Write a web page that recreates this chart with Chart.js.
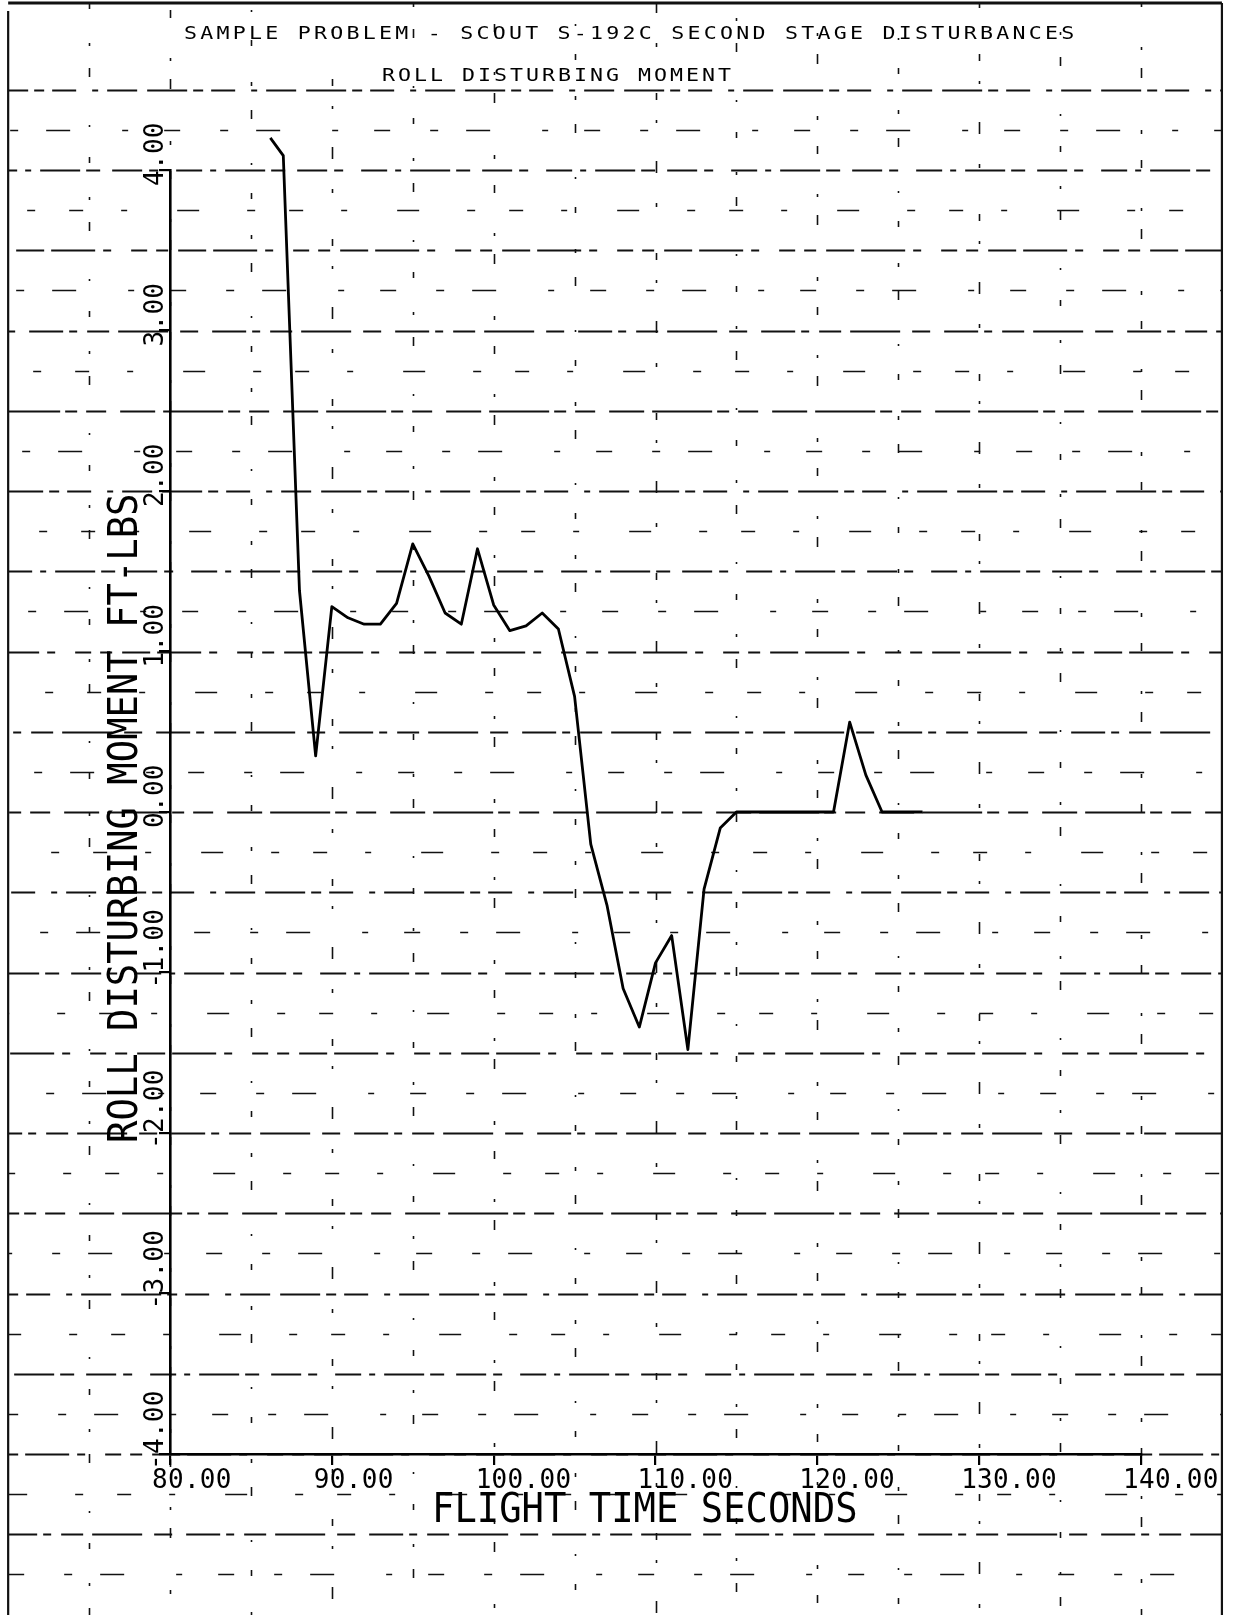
<!DOCTYPE html>
<html><head><meta charset="utf-8">
<style>html,body{margin:0;padding:0;background:#fff;} canvas{display:block;}</style>
<script src="https://cdn.jsdelivr.net/npm/chart.js@4.4.1/dist/chart.umd.min.js"></script>
</head><body>
<div style="width:1240px;height:1615px;position:relative"><canvas id="c" width="1240" height="1615"></canvas></div>
<script>
// ---- text ----
const chartTitle = "SAMPLE PROBLEM - SCOUT S-192C SECOND STAGE DISTURBANCES";
const chartSubtitle = "ROLL DISTURBING MOMENT";
const xAxisTitle = "FLIGHT TIME SECONDS";
const yAxisTitle = "ROLL DISTURBING MOMENT FT-LBS";

// ---- data ----
const flightTime = [86.2, 87, 88, 89, 90, 91, 92, 93, 94, 95, 96, 97, 98, 99, 100,
  101, 102, 103, 104, 105, 106, 107, 108, 109, 110, 111, 112, 113, 114, 115,
  116, 117, 118, 119, 120, 121, 122, 123, 124, 125, 126, 126.5];
const rollMoment = [4.20, 4.09, 1.38, 0.35, 1.28, 1.21, 1.17, 1.17, 1.30, 1.67, 1.47,
  1.24, 1.17, 1.64, 1.29, 1.13, 1.16, 1.24, 1.14, 0.72, -0.20, -0.58, -1.10, -1.34,
  -0.94, -0.77, -1.48, -0.48, -0.10, 0.00, 0.00, 0.00, 0.00, 0.00, 0.00, 0.00,
  0.56, 0.23, 0.00, 0.00, 0.00, 0.00];

// ---- axes ----
const xRange = [80, 140];
const yRange = [-4, 4];
const xTickStep = 10;
const yTickStep = 1;
const xGridStep = 5;        // plotter grid spacing (seconds)
const yGridStep = 0.25;     // plotter grid spacing (ft-lbs)
const pageTimeRange = [70, 145];
const pageValueRange = [-4.75, 4.5];
const pageTopValue = 5.04;

const FONT = '"DejaVu Sans Mono", "Liberation Mono", monospace';

const majorDash = [
  [26,8,6,9,40,6,14,12,30,7,9,18],
  [18,14,34,6,8,10,22,9,50,12],
  [40,6,10,8,24,16,6,9,30,10],
  [12,10,28,7,44,8,8,20,16,9],
  [60,5,12,9,20,14,35,8]
];
const minorDash = [
  [16,40,8,28,24,52,6,36],
  [10,30,20,44,6,26,28,60],
  [22,48,8,34,14,38,6,50],
  [30,26,6,40,12,30,18,46]
];
const vertDash = [
  [6,34,3,22,9,48,2,30],
  [4,26,8,40,3,18,10,52],
  [9,44,2,28,6,36,4,24],
  [12,30,4,46,7,20,3,38]
];

function drawPlotText(ctx, str, x, y, size, spacing, sx, rot) {
  ctx.save();
  ctx.translate(x, y);
  if (rot) ctx.rotate(rot);
  ctx.scale(sx, 1);
  ctx.font = size + 'px ' + FONT;
  ctx.letterSpacing = spacing + 'px';
  ctx.fillStyle = '#000';
  ctx.textAlign = 'left';
  ctx.textBaseline = 'alphabetic';
  ctx.fillText(str, 0, 0);
  ctx.restore();
}

const gridPlugin = {
  id: 'plotterGrid',
  beforeDraw(chart) {
    const {ctx, scales: {x, y}} = chart;
    ctx.save();
    ctx.fillStyle = '#fff';
    ctx.fillRect(0, 0, chart.width, chart.height);
    const xl = x.getPixelForValue(pageTimeRange[0]);
    const xr = x.getPixelForValue(pageTimeRange[1]);
    const yt = y.getPixelForValue(pageTopValue);
    const yb = chart.height;
    ctx.strokeStyle = '#111';
    // horizontal rows
    let idx = 0;
    for (let v = pageValueRange[0]; v <= pageValueRange[1] + 1e-9; v += yGridStep) {
      const py = Math.round(y.getPixelForValue(v)) + 0.5;
      const major = Math.abs(v * 2 - Math.round(v * 2)) < 1e-6;
      const pats = major ? majorDash : minorDash;
      ctx.setLineDash(pats[idx % pats.length]);
      ctx.lineDashOffset = (idx * 37) % 71;
      ctx.lineWidth = major ? 1.8 : 1.6;
      ctx.beginPath(); ctx.moveTo(xl, py); ctx.lineTo(xr, py); ctx.stroke();
      idx++;
    }
    // vertical rows
    idx = 0;
    for (let t = pageTimeRange[0] + xGridStep; t < pageTimeRange[1]; t += xGridStep) {
      const px = Math.round(x.getPixelForValue(t)) + 0.5;
      ctx.setLineDash(vertDash[idx % vertDash.length]);
      ctx.lineDashOffset = (idx * 23) % 53;
      ctx.lineWidth = 1.6;
      ctx.beginPath(); ctx.moveTo(px, yt); ctx.lineTo(px, yb); ctx.stroke();
      idx++;
    }
    // page frame (plotter border)
    ctx.setLineDash([]);
    ctx.lineWidth = 2.2;
    ctx.beginPath();
    ctx.moveTo(xl, yb); ctx.lineTo(xl, yt + 8);
    ctx.moveTo(xr, yt); ctx.lineTo(xr, yb);
    ctx.stroke();
    ctx.lineWidth = 3;
    ctx.beginPath(); ctx.moveTo(xl, yt); ctx.lineTo(xr, yt); ctx.stroke();
    ctx.restore();
  },
  afterDraw(chart) {
    const {ctx, scales: {x, y}, chartArea} = chart;
    // x tick labels
    x.ticks.forEach(t => {
      const px = x.getPixelForValue(t.value);
      drawPlotText(ctx, t.value.toFixed(2), px - 18, chartArea.bottom + 34, 26, 0.3, 1, 0);
    });
    // y tick labels (rotated, reading upward)
    y.ticks.forEach(t => {
      const py = y.getPixelForValue(t.value);
      drawPlotText(ctx, t.value.toFixed(2), chartArea.left - 7, py + 16, 26, 0.3, 1, -Math.PI / 2);
    });
    // axis titles
    drawPlotText(ctx, xAxisTitle, chartArea.left + 262, chartArea.bottom + 68, 40, 0, 0.93, 0);
    drawPlotText(ctx, yAxisTitle, chartArea.left - 33, chartArea.top + 973, 40, 0, 0.93, -Math.PI / 2);
    // titles
    drawPlotText(ctx, chartTitle, 184, 39, 18, 2.7, 1.2, 0);
    drawPlotText(ctx, chartSubtitle, 382, 81, 18, 2.5, 1.2, 0);
  }
};

const target = {left: 170, right: 1141, top: 170, bottom: 1454};

const chart = new Chart(document.getElementById('c'), {
  type: 'line',
  data: {
    datasets: [{
      data: flightTime.map((t, i) => ({x: t, y: rollMoment[i]})),
      borderColor: '#000',
      borderWidth: 2.8,
      pointRadius: 0,
      tension: 0,
      fill: false,
      clip: false,
      borderJoinStyle: 'round'
    }]
  },
  options: {
    responsive: false,
    animation: false,
    devicePixelRatio: 1,
    layout: {padding: {left: 160, right: 99, top: 170, bottom: 150}},
    plugins: {legend: {display: false}, tooltip: {enabled: false}, title: {display: false}},
    scales: {
      x: {
        type: 'linear', min: xRange[0], max: xRange[1],
        ticks: {display: false, stepSize: xTickStep},
        grid: {display: true, drawOnChartArea: false, drawTicks: true, tickLength: 11, color: '#000', lineWidth: 2.2},
        border: {display: true, color: '#000', width: 2.6}
      },
      y: {
        type: 'linear', min: yRange[0], max: yRange[1],
        ticks: {display: false, stepSize: yTickStep},
        grid: {display: true, drawOnChartArea: false, drawTicks: true, tickLength: 11, color: '#000', lineWidth: 2.2},
        border: {display: true, color: '#000', width: 2.6}
      }
    }
  },
  plugins: [gridPlugin]
});

// align plot area with the plotter frame
const ca = chart.chartArea;
const p = chart.options.layout.padding;
p.left += target.left - ca.left;
p.right += ca.right - target.right;
p.top += target.top - ca.top;
p.bottom += ca.bottom - target.bottom;
chart.update('none');
</script>
</body></html>
